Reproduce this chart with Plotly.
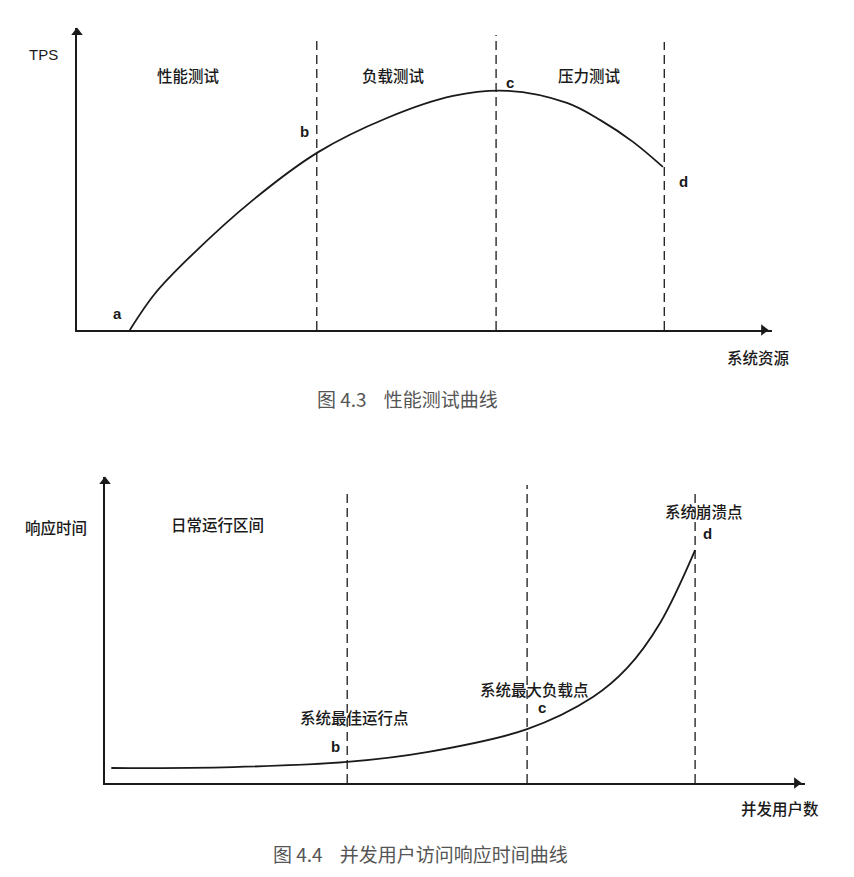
import plotly.graph_objects as go

# ---------------- data: 图 4.3 性能测试曲线 ----------------
tps_x = [7.6, 11.2, 15.8, 25.3, 34.7, 44.6, 54.1, 62.0, 70.5, 75.3, 80.0, 84.3]
tps_y = [0.0, 12.0, 23.2, 43.0, 58.9, 70.2, 77.5, 79.2, 75.2, 69.5, 62.3, 54.0]
tps_bounds = [34.5, 60.3, 84.5]
tps_bound_tops = [96.0, 97.7, 95.4]
tps_regions = ["性能测试", "负载测试", "压力测试"]
tps_region_x = [16.0, 45.5, 73.8]
tps_points = ["a", "b", "c", "d"]
tps_point_x = [5.8, 32.8, 62.3, 87.3]
tps_point_y = [5.6, 65.6, 81.8, 49.3]

# ---------------- data: 图 4.4 并发用户访问响应时间曲线 ----------------
rt_x = [0.9, 18.3, 34.6, 46.0, 60.3, 69.7, 74.6, 79.3, 84.3]
rt_y = [4.9, 5.2, 6.9, 10.1, 17.6, 28.1, 37.6, 52.3, 76.1]
rt_bounds = [34.6, 60.3, 84.3]
rt_bound_tops = [95.1, 97.4, 95.1]
rt_labels = ["日常运行区间", "系统最佳运行点", "系统最大负载点", "系统崩溃点"]
rt_label_x = [16.1, 35.6, 61.4, 85.6]
rt_label_y = [84.6, 21.6, 30.7, 88.9]
rt_points = ["b", "c", "d"]
rt_point_x = [32.9, 62.4, 86.0]
rt_point_y = [11.8, 24.8, 81.7]

W, H = 854, 877
CJK = "Noto Sans CJK SC"
INK = "#1a1a1a"
LBL = 15.5

fig = go.Figure()

def add_panel(xa, ya, cx, cy, bounds, tops):
    fig.add_trace(go.Scatter(x=cx, y=cy, mode="lines", xaxis=xa, yaxis=ya,
                             line=dict(color=INK, width=1.8, shape="spline", smoothing=1.0),
                             showlegend=False, hoverinfo="skip"))
    for bx, top in zip(bounds, tops):
        fig.add_trace(go.Scatter(x=[bx, bx], y=[0, top], mode="lines", xaxis=xa, yaxis=ya,
                                 line=dict(color=INK, width=1.3, dash="9px,5px"),
                                 showlegend=False, hoverinfo="skip"))
    fig.add_trace(go.Scatter(x=[0], y=[98.5], mode="markers", xaxis=xa, yaxis=ya,
                             marker=dict(symbol="triangle-up", size=10, color=INK),
                             cliponaxis=False, showlegend=False, hoverinfo="skip"))
    fig.add_trace(go.Scatter(x=[98.8], y=[0], mode="markers", xaxis=xa, yaxis=ya,
                             marker=dict(symbol="triangle-right", size=10, color=INK),
                             cliponaxis=False, showlegend=False, hoverinfo="skip"))

add_panel("x", "y", tps_x, tps_y, tps_bounds, tps_bound_tops)
add_panel("x2", "y2", rt_x, rt_y, rt_bounds, rt_bound_tops)

ann = []
def label(text, x, y, xref, yref, size=LBL, bold=False, font=CJK, color=INK, weight=500):
    ann.append(dict(text=f"<b>{text}</b>" if bold else text, x=x, y=y, xref=xref, yref=yref,
                    showarrow=False, font=dict(family=font, size=size, color=color, weight=weight),
                    xanchor="center", yanchor="middle"))

# top panel texts
label("TPS", 0.0504, 0.9373, "paper", "paper", size=15, font="Liberation Sans", weight=400)
for t, x in zip(tps_regions, tps_region_x):
    label(t, x, 84.4, "x", "y")
for t, x, y in zip(tps_points, tps_point_x, tps_point_y):
    label(t, x, y, "x", "y", size=15, bold=True, font="Liberation Sans")
label("系统资源", 0.8876, 0.5929, "paper", "paper")

# bottom panel texts
label("响应时间", 0.0656, 0.3991, "paper", "paper")
for t, x, y in zip(rt_labels, rt_label_x, rt_label_y):
    label(t, x, y, "x2", "y2")
for t, x, y in zip(rt_points, rt_point_x, rt_point_y):
    label(t, x, y, "x2", "y2", size=15, bold=True, font="Liberation Sans")
label("并发用户数", 0.9133, 0.0787, "paper", "paper")

# captions
label("图 4.3 &nbsp;&nbsp;&nbsp;性能测试曲线", 0.477, 0.546, "paper", "paper", size=19,
      color="#555555", weight=400)
label("图 4.4 &nbsp;&nbsp;&nbsp;并发用户访问响应时间曲线", 0.492, 0.027, "paper", "paper", size=19,
      color="#555555", weight=400)

axis_common = dict(showgrid=False, zeroline=False, showticklabels=False, ticks="",
                   showline=True, linecolor=INK, linewidth=1.6, range=[0, 100], fixedrange=True)

fig.update_layout(
    width=W, height=H,
    margin=dict(l=0, r=0, t=0, b=0),
    paper_bgcolor="white", plot_bgcolor="white",
    showlegend=False,
    annotations=ann,
    xaxis=dict(domain=[77 / W, 772 / W], anchor="y", **axis_common),
    yaxis=dict(domain=[(H - 330) / H, (H - 28) / H], anchor="x", **axis_common),
    xaxis2=dict(domain=[105 / W, 805 / W], anchor="y2", **axis_common),
    yaxis2=dict(domain=[(H - 783) / H, (H - 477) / H], anchor="x2", **axis_common),
)

fig.write_html("out.html")
